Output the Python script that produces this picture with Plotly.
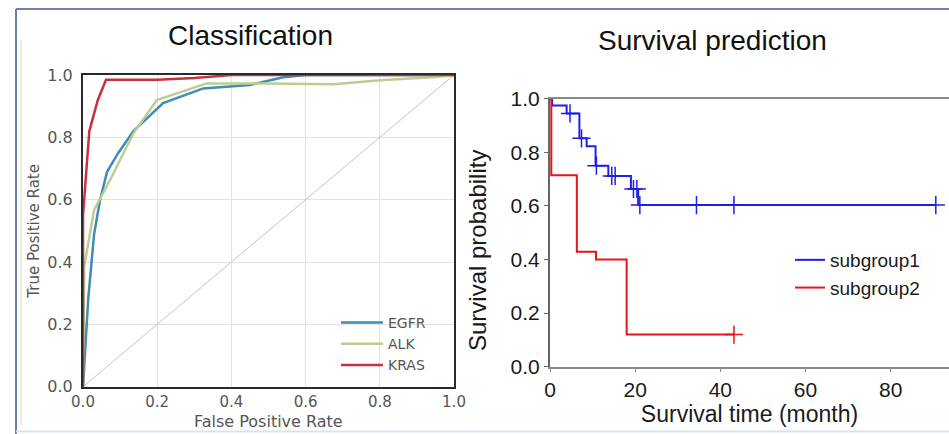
import numpy as np
import plotly.graph_objects as go

W, H = 949, 434

# ---- ROC curves (false positive rate, true positive rate) ----
egfr_fpr = [0.0, 0.014, 0.03, 0.046, 0.065, 0.095, 0.136, 0.216, 0.324, 0.45, 0.54, 0.6, 1.0]
egfr_tpr = [0.0, 0.28, 0.49, 0.60, 0.69, 0.75, 0.82, 0.91, 0.957, 0.968, 0.993, 1.0, 1.0]
alk_fpr = [0.0, 0.003, 0.03, 0.073, 0.136, 0.199, 0.333, 0.495, 0.675, 0.81, 0.945, 1.0]
alk_tpr = [0.0, 0.385, 0.567, 0.663, 0.813, 0.92, 0.973, 0.973, 0.97, 0.984, 0.993, 1.0]
kras_fpr = [0.0, 0.0, 0.017, 0.04, 0.062, 0.2, 0.3, 0.4, 1.0]
kras_tpr = [0.0, 0.55, 0.82, 0.92, 0.985, 0.985, 0.99, 1.0, 1.0]
chance = [0.0, 1.0]
roc_ticks = [0.0, 0.2, 0.4, 0.6, 0.8, 1.0]

# ---- Kaplan-Meier survival curves ----
g1_time = [0.0, 0.5, 3.9, 6.9, 8.6, 10.7, 13.7, 19.0, 20.7, 90.6]
g1_surv = [1.0, 0.975, 0.945, 0.852, 0.823, 0.750, 0.712, 0.663, 0.603, 0.603]
g1_censor = [4.7, 7.4, 10.9, 14.5, 15.3, 19.6, 20.4, 21.1, 34.4, 43.2, 90.6]
g2_time = [0.0, 0.3, 6.3, 10.8, 18.0, 43.2]
g2_surv = [1.0, 0.714, 0.429, 0.40, 0.12, 0.12]
g2_censor = [43.2]
surv_yticks = [0.0, 0.2, 0.4, 0.6, 0.8, 1.0]
surv_xticks = [0, 20, 40, 60, 80]


def step_value(times, surv, t):
    idx = np.searchsorted(times, t, side="right") - 1
    return [surv[i] for i in idx]


def px_x(p):
    return p / W


def px_y(p):
    return 1 - p / H


fig = go.Figure()

roc_font = dict(family="DejaVu Sans", color="#555555")

fig.add_trace(go.Scatter(x=chance, y=chance, mode="lines", showlegend=False,
                         line=dict(color="#c4c4c4", width=1), xaxis="x", yaxis="y",
                         hoverinfo="skip"))
for name, fx, ty, col in [("EGFR", egfr_fpr, egfr_tpr, "#3d8db5"),
                          ("ALK", alk_fpr, alk_tpr, "#bccd92"),
                          ("KRAS", kras_fpr, kras_tpr, "#c8303e")]:
    fig.add_trace(go.Scatter(x=fx, y=ty, mode="lines", name=name, legend="legend",
                             line=dict(color=col, width=2.5), xaxis="x", yaxis="y"))

for name, t, s, cens, col in [("subgroup1", g1_time, g1_surv, g1_censor, "#1f1fe6"),
                              ("subgroup2", g2_time, g2_surv, g2_censor, "#e8141c")]:
    fig.add_trace(go.Scatter(x=t, y=s, mode="lines", name=name, legend="legend2",
                             line=dict(color=col, width=2, shape="hv"),
                             xaxis="x2", yaxis="y2"))
    fig.add_trace(go.Scatter(x=cens, y=step_value(t, s, cens), mode="markers",
                             showlegend=False, xaxis="x2", yaxis="y2",
                             marker=dict(symbol="cross-thin", size=13,
                                         line=dict(color=col, width=1.5))))

fig.update_layout(
    template="none",
    width=W, height=H,
    margin=dict(l=0, r=0, t=0, b=0, pad=0),
    paper_bgcolor="white", plot_bgcolor="white",
    xaxis=dict(domain=[px_x(83), px_x(454)], range=[0, 1], tickvals=roc_ticks,
               ticktext=[f"{v:.1f}" for v in roc_ticks], automargin=False,
               showgrid=True, gridcolor="#e2e2e2", gridwidth=1,
               showline=True, linecolor="#2a2a2a", linewidth=2, mirror=True,
               ticks="", zeroline=False,
               tickfont=dict(size=15, **roc_font)),
    yaxis=dict(domain=[px_y(386.7), px_y(75)], range=[0, 1], tickvals=roc_ticks,
               ticktext=[f"{v:.1f}" for v in roc_ticks], automargin=False,
               showgrid=True, gridcolor="#e2e2e2", gridwidth=1,
               showline=True, linecolor="#2a2a2a", linewidth=2, mirror=True,
               ticks="outside", ticklen=5, tickcolor="rgba(0,0,0,0)", zeroline=False,
               tickfont=dict(size=16, **roc_font),
               title=dict(text="True Positive Rate", font=dict(size=15, **roc_font), standoff=4)),
    xaxis2=dict(domain=[px_x(550), 1.0], range=[0, 93.7], tickvals=surv_xticks,
                showgrid=False, zeroline=False, automargin=False,
                showline=True, linecolor="#8a8a8a", linewidth=2, mirror=True,
                ticks="outside", ticklen=3, tickcolor="#8a8a8a",
                tickfont=dict(family="Liberation Sans", size=21, color="#1a1a1a"),
                title=dict(text="Survival time (month)", standoff=0,
                           font=dict(family="Liberation Sans", size=23, color="#1a1a1a")),
                anchor="y2"),
    yaxis2=dict(domain=[px_y(366.7), px_y(98.7)], range=[0, 1], tickvals=surv_yticks,
                ticktext=[f"{v:.1f}" for v in surv_yticks],
                showgrid=False, zeroline=False, automargin=False,
                showline=True, linecolor="#666666", linewidth=2,
                ticks="outside", ticklen=4, tickcolor="#666666",
                tickfont=dict(family="Liberation Sans", size=21, color="#1a1a1a"),
                anchor="x2"),
    legend=dict(x=px_x(336), y=px_y(307), xanchor="left", yanchor="top",
                bgcolor="rgba(255,255,255,0)", tracegroupgap=0,
                font=dict(size=14, **roc_font), itemwidth=42),
    legend2=dict(x=px_x(790), y=px_y(241), xanchor="left", yanchor="top",
                 bgcolor="rgba(255,255,255,0)", tracegroupgap=0,
                 font=dict(family="Liberation Sans", size=19, color="#1a1a1a"), itemwidth=30),
    annotations=[
        dict(text="Classification", x=px_x(250), y=px_y(35), xref="paper", yref="paper",
             showarrow=False, xanchor="center", yanchor="middle",
             font=dict(family="Liberation Sans", size=28, color="#111111")),
        dict(text="Survival prediction", x=px_x(712), y=px_y(40), xref="paper", yref="paper",
             showarrow=False, xanchor="center", yanchor="middle",
             font=dict(family="Liberation Sans", size=28, color="#111111")),
        dict(text="Survival probability", x=px_x(478), y=px_y(250), xref="paper", yref="paper",
             showarrow=False, xanchor="center", yanchor="middle", textangle=-90,
             font=dict(family="Liberation Sans", size=24, color="#1a1a1a")),
        dict(text="False Positive Rate", x=px_x(268), y=px_y(421), xref="paper", yref="paper",
             showarrow=False, xanchor="center", yanchor="middle",
             font=dict(size=16, **roc_font)),
    ],
    shapes=[
        # outer panel frame
        dict(type="line", xref="paper", yref="paper", x0=px_x(16), x1=1, y0=px_y(9), y1=px_y(9),
             line=dict(color="#6c7fa6", width=2)),
        dict(type="line", xref="paper", yref="paper", x0=px_x(16), x1=px_x(16), y0=px_y(9), y1=0,
             line=dict(color="#6c7fa6", width=2)),
        dict(type="line", xref="paper", yref="paper", x0=px_x(16), x1=1, y0=px_y(431.5), y1=px_y(431.5),
             line=dict(color="#d6e4f2", width=2)),
        dict(type="line", xref="paper", yref="paper", x0=px_x(21), x1=px_x(21), y0=px_y(40), y1=px_y(425),
             line=dict(color="#f6e6d2", width=1.5)),
    ],
    showlegend=True,
)

fig.write_html("out.html")
